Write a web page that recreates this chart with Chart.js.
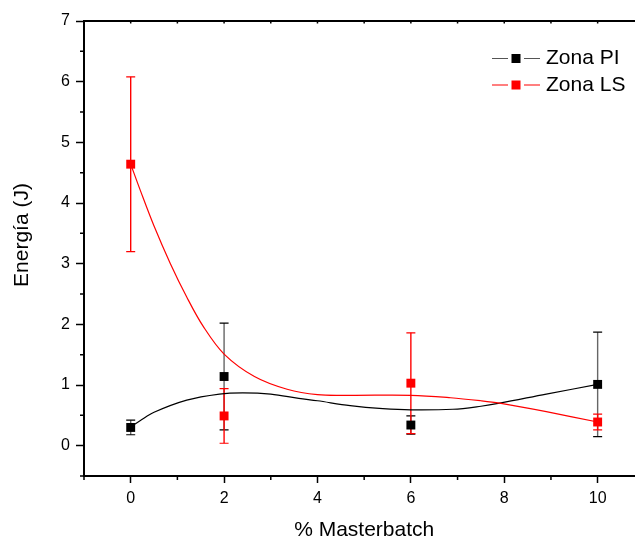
<!DOCTYPE html>
<html>
<head>
<meta charset="utf-8">
<script src="https://cdn.jsdelivr.net/npm/chart.js@4.4.1/dist/chart.umd.min.js"></script>
<style>
  html, body { margin: 0; padding: 0; background: #fff; overflow: hidden; }
  #chart { display: block; }
</style>
</head>
<body>
<canvas id="chart" width="635" height="540"></canvas>
<script>
// Measured points (% masterbatch vs. energy) with their standard deviations
const masterbatch = [0, 2, 6, 10];
const zonaPI    = [0.30, 1.14, 0.34, 1.01];
const zonaPIerr = [0.12, 0.88, 0.15, 0.86];
const zonaLS    = [4.64, 0.49, 1.03, 0.39];
const zonaLSerr = [1.44, 0.45, 0.83, 0.13];

// Smoothed trend lines through each series
const fitPIx = [0, 0.2, 0.5, 1.2, 1.9, 2.4, 3.0, 3.6, 4.0, 4.7, 5.4, 6.0, 6.9, 7.5, 7.9, 8.9, 10];
const fitPIy = [0.31, 0.41, 0.55, 0.75, 0.85, 0.87, 0.85, 0.78, 0.74, 0.66, 0.61, 0.59, 0.60, 0.65, 0.70, 0.85, 1.01];
const fitLSx = [0, 0.2, 0.5, 0.85, 1.2, 1.55, 2.0, 2.65, 3.35, 4.0, 4.7, 6.0, 6.85, 7.5, 7.9, 8.9, 10];
const fitLSy = [4.64, 4.22, 3.62, 3.0, 2.45, 1.97, 1.51, 1.14, 0.93, 0.84, 0.83, 0.83, 0.79, 0.74, 0.70, 0.56, 0.39];

// Axis tick positions and the ones that carry a label
const xTickValues = [-1, 0, 1, 2, 3, 4, 5, 6, 7, 8, 9, 10];
const yTickValues = [-0.5, 0, 0.5, 1, 1.5, 2, 2.5, 3, 3.5, 4, 4.5, 5, 5.5, 6, 6.5, 7];
const xTicks = [0, 2, 4, 6, 8, 10];
const yTicks = [0, 1, 2, 3, 4, 5, 6, 7];

const FONT = '"Liberation Sans", Arial, Helvetica, sans-serif';
const RED = '#ff0000';
const BLACK = '#000000';

const toPoints = (xs, ys) => xs.map((x, i) => ({ x: x, y: ys[i] }));

// Vertical error bars with caps, drawn through the chart's scales
const errorBars = {
  id: 'errorBars',
  beforeDatasetsDraw(chart) {
    const { ctx } = chart;
    const xs = chart.scales.x, ys = chart.scales.y;
    chart.data.datasets.forEach((ds) => {
      if (!ds.errors) return;
      ds.data.forEach((p, j) => {
        const px = xs.getPixelForValue(p.x);
        const top = ys.getPixelForValue(p.y + ds.errors[j]);
        const bot = ys.getPixelForValue(p.y - ds.errors[j]);
        ctx.save();
        ctx.strokeStyle = ds.errorColor;
        ctx.lineWidth = 1.4;
        ctx.beginPath();
        ctx.moveTo(px, top);
        ctx.lineTo(px, bot);
        ctx.stroke();
        ctx.strokeStyle = ds.borderColor;
        ctx.lineWidth = 1.2;
        ctx.beginPath();
        ctx.moveTo(px - 4.5, top); ctx.lineTo(px + 4.5, top);
        ctx.moveTo(px - 4.5, bot); ctx.lineTo(px + 4.5, bot);
        ctx.stroke();
        ctx.restore();
      });
    });
  }
};

// Minor ticks, top frame line and axis titles
const frame = {
  id: 'frame',
  afterDraw(chart) {
    const { ctx, chartArea: a } = chart;
    const xs = chart.scales.x, ys = chart.scales.y;
    ctx.save();
    ctx.strokeStyle = BLACK;
    ctx.lineWidth = 1.5;
    ctx.beginPath();
    // minor ticks on the bottom axis
    xTickValues.filter(v => !xTicks.includes(v)).forEach(v => {
      const px = xs.getPixelForValue(v);
      ctx.moveTo(px, a.bottom); ctx.lineTo(px, a.bottom + 4);
    });
    // minor ticks on the left axis
    yTickValues.filter(v => !yTicks.includes(v)).forEach(v => {
      const py = ys.getPixelForValue(v);
      ctx.moveTo(a.left, py); ctx.lineTo(a.left - 4, py);
    });
    // small inner ticks under the top frame line
    xTickValues.forEach(v => {
      const px = xs.getPixelForValue(v);
      ctx.moveTo(px, a.top); ctx.lineTo(px, a.top + 2.5);
    });
    ctx.stroke();
    ctx.lineWidth = 2;
    ctx.beginPath();
    ctx.moveTo(a.left - 1, a.top);
    ctx.lineTo(a.right, a.top);
    ctx.stroke();

    // axis titles (x title centred on the middle of the -1..11 frame)
    ctx.fillStyle = BLACK;
    ctx.font = '21px ' + FONT;
    ctx.textAlign = 'center';
    ctx.textBaseline = 'middle';
    ctx.fillText('% Masterbatch', xs.getPixelForValue(5), 530);
    ctx.translate(22, 235);
    ctx.rotate(-Math.PI / 2);
    ctx.fillText('Energía (J)', 0, 0);
    ctx.restore();
  }
};

// Legend: line - square - line symbol followed by the series name
const legendBox = {
  id: 'legendBox',
  afterDraw(chart) {
    const { ctx } = chart;
    const items = chart.data.datasets.filter(d => d.inLegend);
    ctx.save();
    ctx.font = '21px ' + FONT;
    ctx.textBaseline = 'middle';
    ctx.textAlign = 'left';
    items.forEach((d, i) => {
      const cy = 58.5 + i * 26.5;
      const x0 = 492;
      ctx.strokeStyle = d.legendLine;
      ctx.lineWidth = 1.2;
      ctx.beginPath();
      ctx.moveTo(x0, cy); ctx.lineTo(x0 + 16, cy);
      ctx.moveTo(x0 + 32, cy); ctx.lineTo(x0 + 48, cy);
      ctx.stroke();
      ctx.fillStyle = d.backgroundColor;
      ctx.fillRect(x0 + 19.5, cy - 4.5, 9, 9);
      ctx.fillStyle = BLACK;
      ctx.fillText(d.label, x0 + 54, cy);
    });
    ctx.restore();
  }
};

new Chart(document.getElementById('chart'), {
  type: 'scatter',
  data: {
    datasets: [
      {
        label: 'Zona PI',
        inLegend: true,
        legendLine: '#555555',
        data: toPoints(masterbatch, zonaPI),
        errors: zonaPIerr,
        errorColor: '#666666',
        borderColor: BLACK,
        backgroundColor: BLACK,
        pointStyle: 'rect',
        pointRadius: 6.3,
        pointBorderWidth: 0,
        showLine: false,
        order: 1
      },
      {
        label: 'Zona LS',
        inLegend: true,
        legendLine: RED,
        data: toPoints(masterbatch, zonaLS),
        errors: zonaLSerr,
        errorColor: RED,
        borderColor: RED,
        backgroundColor: RED,
        pointStyle: 'rect',
        pointRadius: 6.3,
        pointBorderWidth: 0,
        showLine: false,
        order: 0
      },
      {
        label: 'Zona PI (ajuste)',
        data: toPoints(fitPIx, fitPIy),
        borderColor: BLACK,
        borderWidth: 1.2,
        pointRadius: 0,
        showLine: true,
        tension: 0.35,
        order: 3
      },
      {
        label: 'Zona LS (ajuste)',
        data: toPoints(fitLSx, fitLSy),
        borderColor: RED,
        borderWidth: 1.2,
        pointRadius: 0,
        showLine: true,
        tension: 0.35,
        order: 2
      }
    ]
  },
  options: {
    responsive: false,
    animation: false,
    events: [],
    layout: { autoPadding: false, padding: { top: 21, left: 0, right: 0, bottom: 0 } },
    plugins: {
      legend: { display: false },
      tooltip: { enabled: false }
    },
    scales: {
      x: {
        type: 'linear',
        min: -1,
        max: 10.8,
        border: { display: true, color: BLACK, width: 2 },
        grid: {
          drawOnChartArea: false,
          drawTicks: true,
          tickLength: 7,
          tickWidth: 1.5,
          tickColor: c => (c.tick && xTicks.includes(c.tick.value)) ? BLACK : 'rgba(0,0,0,0)'
        },
        ticks: {
          autoSkip: false,
          maxRotation: 0,
          padding: 6,
          color: BLACK,
          font: { family: FONT, size: 16 },
          callback: v => xTicks.includes(v) ? String(v) : ''
        },
        afterBuildTicks: s => { s.ticks = xTickValues.map(v => ({ value: v })); },
        afterFit: s => { s.height = 64; s.paddingLeft = 0; s.paddingRight = 0; }
      },
      y: {
        type: 'linear',
        min: -0.5,
        max: 7,
        border: { display: true, color: BLACK, width: 2 },
        grid: {
          drawOnChartArea: false,
          drawTicks: true,
          tickLength: 8,
          tickWidth: 1.5,
          tickColor: c => (c.tick && yTicks.includes(c.tick.value)) ? BLACK : 'rgba(0,0,0,0)'
        },
        ticks: {
          autoSkip: false,
          padding: 6,
          color: BLACK,
          font: { family: FONT, size: 16 },
          callback: v => yTicks.includes(v) ? String(v) : ''
        },
        afterBuildTicks: s => { s.ticks = yTickValues.map(v => ({ value: v })); },
        afterFit: s => { s.width = 84; }
      }
    }
  },
  plugins: [errorBars, frame, legendBox]
});
</script>
</body>
</html>
